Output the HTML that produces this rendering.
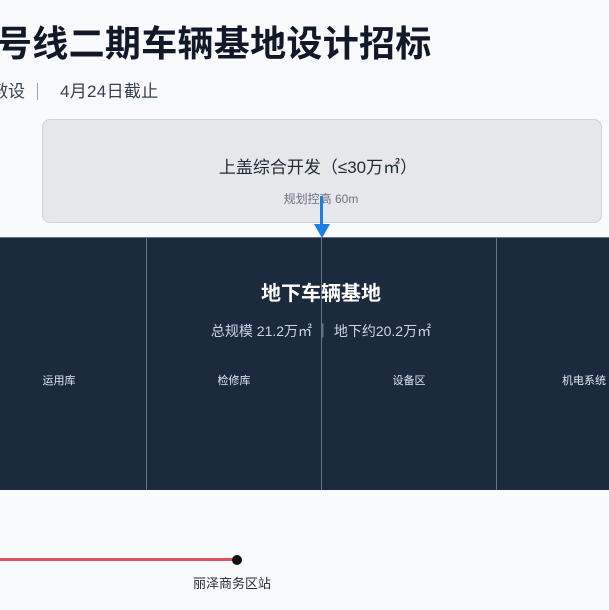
<!DOCTYPE html>
<html><head><meta charset="utf-8"><style>
*{margin:0;padding:0;box-sizing:border-box}
body{width:609px;height:610px;overflow:hidden;background:#f8fafc;position:relative;font-family:"Liberation Sans","Noto Sans CJK SC",sans-serif}
.a{position:absolute;white-space:nowrap}
</style></head><body>
<div class="a" style="left:-4px;top:21px;font-size:36px;font-weight:700;color:#111827;line-height:46px;letter-spacing:0.3px">号线二期车辆基地设计招标</div>
<div class="a" style="left:-9px;top:80px;font-size:17px;color:#374151;line-height:24px">敷设</div>
<div class="a" style="left:37px;top:83px;width:1px;height:17px;background:#9ca3af"></div>
<div class="a" style="left:60px;top:80px;font-size:17px;color:#374151;line-height:24px;letter-spacing:0.3px">4月24日截止</div>
<div class="a" style="left:42px;top:119px;width:560px;height:104px;background:#e5e7eb;border:1px solid #cfd3da;border-radius:8px"></div>
<div class="a" style="left:0;width:636px;text-align:center;top:157px;font-size:17px;color:#1f2937;line-height:22px">上盖综合开发（≤30万㎡）</div>
<div class="a" style="left:0;width:642px;text-align:center;top:191px;font-size:12px;color:#6b7280;line-height:16px">规划控高 60m</div>
<div class="a" style="left:0;top:237px;width:609px;height:253px;background:#1b2a3d;border-top:1px solid #64748b"></div>
<div class="a" style="left:146px;top:238px;width:1px;height:252px;background:#64748b"></div>
<div class="a" style="left:321px;top:238px;width:1px;height:252px;background:#64748b"></div>
<div class="a" style="left:496px;top:238px;width:1px;height:252px;background:#64748b"></div>
<div class="a" style="left:320px;top:196px;width:3px;height:30px;background:#1a7fe0"></div>
<div class="a" style="left:314px;top:224px;width:0;height:0;border-left:8px solid transparent;border-right:8px solid transparent;border-top:14px solid #1a7fe0"></div>
<div class="a" style="left:0;width:642px;text-align:center;top:281px;font-size:20px;font-weight:700;color:#fff;line-height:26px">地下车辆基地</div>
<div class="a" style="left:0;width:642px;text-align:center;top:321px;font-size:14px;color:#cbd5e1;line-height:20px">总规模 21.2万㎡ ｜ 地下约20.2万㎡</div>
<div class="a" style="left:9px;width:100px;text-align:center;top:373px;font-size:11px;color:#e2e8f0;line-height:16px">运用库</div>
<div class="a" style="left:184px;width:100px;text-align:center;top:373px;font-size:11px;color:#e2e8f0;line-height:16px">检修库</div>
<div class="a" style="left:359px;width:100px;text-align:center;top:373px;font-size:11px;color:#e2e8f0;line-height:16px">设备区</div>
<div class="a" style="left:534px;width:100px;text-align:center;top:373px;font-size:11px;color:#e2e8f0;line-height:16px">机电系统</div>
<div class="a" style="left:0;top:558px;width:237px;height:3px;background:#e0515c"></div>
<div class="a" style="left:232px;top:555px;width:10px;height:10px;border-radius:50%;background:#111"></div>
<div class="a" style="left:182px;width:100px;text-align:center;top:575px;font-size:13px;color:#1f2937;line-height:18px">丽泽商务区站</div>
</body></html>
